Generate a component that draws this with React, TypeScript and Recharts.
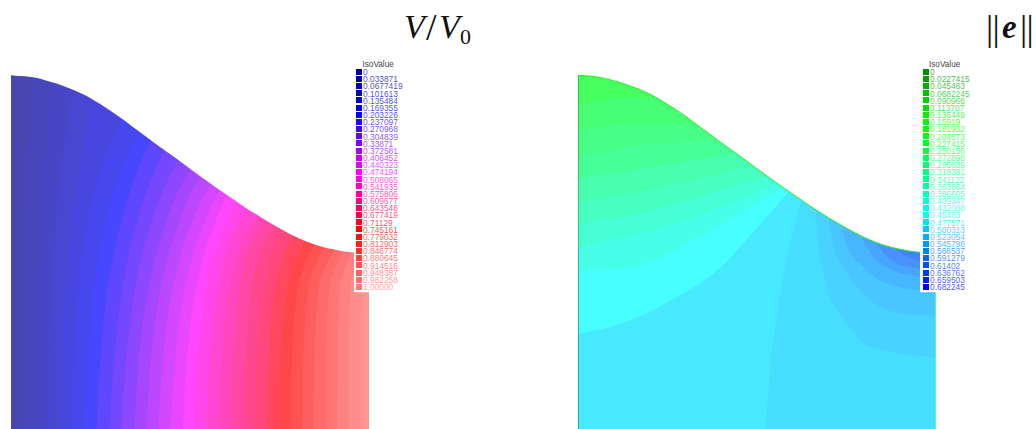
import React from "react";
import { ComposedChart, ScatterChart, Scatter, Area, Line, XAxis, YAxis, ReferenceArea, ReferenceLine } from "recharts";

// Domain coordinates: u runs 0..1 across a panel, v runs 0..0.99 from the cut bottom to the top of the hump.
const TOP = 0.99;

const boundaryU = [0, 0.05, 0.1, 0.15, 0.2, 0.25, 0.3, 0.35, 0.4, 0.45, 0.5, 0.55, 0.6, 0.65, 0.7, 0.75, 0.8, 0.85, 0.9, 0.95, 1];
const boundaryV = [0.989, 0.985, 0.974, 0.958, 0.937, 0.908, 0.875, 0.838, 0.801, 0.765, 0.728, 0.692, 0.657, 0.623, 0.591, 0.562, 0.536, 0.516, 0.503, 0.495, 0.492];

const leftLabels = ["0","0.033871","0.0677419","0.101613","0.135484","0.169355","0.203226","0.237097","0.270968","0.304839","0.33871","0.372581","0.406452","0.440323","0.474194","0.508065","0.541935","0.575806","0.609677","0.643548","0.677419","0.71129","0.745161","0.779032","0.812903","0.846774","0.880645","0.914516","0.948387","0.982258","1.00000"];
const leftColors = ["#000090","#0000a0","#0000b0","#0000c0","#0000d4","#0000e8","#0000ff","#2000ff","#4000ff","#6000ff","#8000ff","#a000ff","#c000ff","#e000ff","#ff00ff","#ff00e0","#ff00c0","#ff00a0","#ff0080","#ff0060","#ff0048","#ff0020","#ff0000","#ff1010","#ff2020","#ff3030","#ff4040","#ff5050","#ff6060","#ff6c6c","#ff7878"];

const rightLabels = ["0","0.0227415","0.045483","0.0682245","0.090966","0.113707","0.136449","0.15919","0.181932","0.204673","0.227415","0.250156","0.272898","0.295639","0.318381","0.341122","0.363864","0.386605","0.409347","0.432088","0.45483","0.477571","0.500313","0.523054","0.545796","0.568537","0.591279","0.61402","0.636762","0.659503","0.682245"];
const rightColors = ["#009000","#00a000","#00b000","#00c000","#00d000","#00e000","#00f000","#00f800","#00ff00","#00ff10","#00ff20","#00ff40","#00ff58","#00ff70","#00ff80","#00ff90","#00ffa0","#00ffb8","#00ffd0","#00ffe8","#00ffff","#00e0ff","#00c8ff","#00b0ff","#0098ff","#0080ff","#0068ff","#0050ff","#0038ff","#0020ff","#0000ff"];

// Left panel: iso-lines of V/V0, one row per contour, one column per v station.
const leftStations = [0, 0.2, 0.4, 0.55, 0.7, 0.85, TOP];
const leftContours = [
  [0.034, 0.035, 0.037, 0.04, 0.044, 0.05, 0.056],
  [0.069, 0.071, 0.075, 0.081, 0.09, 0.102, 0.115],
  [0.104, 0.107, 0.113, 0.123, 0.137, 0.156, 0.176],
  [0.137, 0.142, 0.151, 0.165, 0.186, 0.213, 0.24],
  [0.17, 0.177, 0.189, 0.208, 0.243, 0.3, 0.37],
  [0.206, 0.216, 0.233, 0.258, 0.3, 0.365, 0.45],
  [0.239, 0.25, 0.271, 0.3, 0.345, 0.415, 0.52],
  [0.276, 0.288, 0.312, 0.344, 0.393, 0.47, 0.6],
  [0.309, 0.322, 0.348, 0.384, 0.44, 0.535, 0.68],
  [0.345, 0.358, 0.385, 0.424, 0.485, 0.6, 0.75],
  [0.378, 0.391, 0.419, 0.46, 0.525, 0.67, 0.85],
  [0.412, 0.425, 0.453, 0.495, 0.57, 0.75, 0.95],
  [0.446, 0.459, 0.486, 0.53, 0.61, 0.8, 1],
  [0.48, 0.492, 0.518, 0.56, 0.64, 0.85, 1],
  [0.51, 0.522, 0.547, 0.59, 0.68, 0.9, 1],
  [0.546, 0.557, 0.581, 0.625, 0.73, 0.95, 1],
  [0.58, 0.59, 0.612, 0.66, 0.8, 1, 1],
  [0.613, 0.622, 0.641, 0.69, 0.85, 1, 1],
  [0.648, 0.656, 0.675, 0.725, 0.9, 1, 1],
  [0.68, 0.687, 0.707, 0.76, 0.95, 1, 1],
  [0.715, 0.721, 0.74, 0.8, 1, 1, 1],
  [0.749, 0.754, 0.775, 0.84, 1, 1, 1],
  [0.781, 0.785, 0.802, 0.87, 1, 1, 1],
  [0.814, 0.817, 0.832, 0.9, 1, 1, 1],
  [0.846, 0.848, 0.86, 0.93, 1, 1, 1],
  [0.879, 0.88, 0.889, 0.955, 1, 1, 1],
  [0.911, 0.912, 0.919, 0.975, 1, 1, 1],
  [0.944, 0.944, 0.949, 0.99, 1, 1, 1],
  [0.979, 0.979, 0.982, 1, 1, 1, 1],
];

// Right panel: iso-lines of |e|, each a list of [u, v].
type Iso = { color: string; pts: number[][]; below?: boolean };
const isoTop: Iso[] = [
  { color: "#00ffff", pts: [[0, 0.267], [0.119, 0.295], [0.259, 0.36], [0.399, 0.453], [0.501, 0.565], [0.589, 0.663]] },
  { color: "#00ffe0", pts: [[0, 0.444], [0.166, 0.458], [0.371, 0.556], [0.575, 0.677]] },
  { color: "#00ffc8", pts: [[0, 0.509], [0.212, 0.556], [0.399, 0.621], [0.566, 0.691]] },
  { color: "#00ffa8", pts: [[0, 0.574], [0.212, 0.612], [0.399, 0.668], [0.538, 0.709]] },
  { color: "#00ff90", pts: [[0, 0.635], [0.212, 0.672], [0.399, 0.714], [0.501, 0.742]] },
  { color: "#00ff70", pts: [[0, 0.7], [0.212, 0.733], [0.454, 0.775]] },
  { color: "#00ff58", pts: [[0, 0.761], [0.212, 0.798], [0.399, 0.807]] },
  { color: "#00ff40", pts: [[0, 0.835], [0.166, 0.855], [0.352, 0.85]] },
  { color: "#00ff20", pts: [[0, 0.91], [0.166, 0.928], [0.25, 0.914]] },
];
const fanIso: Iso = { color: "#00d0ff", below: true, pts: [[0.524, 0], [0.538, 0.193], [0.557, 0.332], [0.585, 0.491], [0.622, 0.635], [0.623, TOP], [1, TOP]] };
const isoRight: Iso[] = [
  { color: "#00c0ff", pts: [[0.664, 0.612], [0.669, 0.547], [0.696, 0.398], [0.752, 0.295], [0.818, 0.23], [1, 0.202]] },
  { color: "#00b0ff", pts: [[0.701, 0.584], [0.715, 0.509], [0.752, 0.435], [0.818, 0.36], [0.911, 0.323], [1, 0.318]] },
  { color: "#0098ff", pts: [[0.738, 0.556], [0.752, 0.509], [0.799, 0.453], [0.864, 0.407], [1, 0.384]] },
  { color: "#0080ff", pts: [[0.794, 0.533], [0.818, 0.491], [0.864, 0.453], [0.957, 0.426], [1, 0.421]] },
  { color: "#0068ff", pts: [[0.836, 0.519], [0.864, 0.481], [0.929, 0.453], [1, 0.444]] },
  { color: "#0050ff", pts: [[0.887, 0.505], [0.911, 0.486], [1, 0.463]] },
];
const baseRightColor = "#00e0ff";

const light = (hex: string, a = 0.72) => {
  const n = parseInt(hex.slice(1), 16);
  const c = [(n >> 16) & 255, (n >> 8) & 255, n & 255].map((x) => Math.round(x * a + 255 * (1 - a)));
  return `rgb(${c[0]},${c[1]},${c[2]})`;
};

const PANEL_W = 358;
const PANEL_H = 0.99 * 358;
const PANEL_TOP = 429 - PANEL_H;

function LeftPanel() {
  const bands = [leftStations.map(() => 0), ...leftContours];
  const mask = [{ v: TOP, r: [0, 1] }, ...boundaryU.map((u, i) => ({ v: boundaryV[i], r: [u, 1] }))].sort((a, b) => a.v - b.v);
  return (
    <div style={{ position: "absolute", left: 11, top: PANEL_TOP }}>
      <ComposedChart layout="vertical" width={PANEL_W} height={PANEL_H} margin={{ top: 0, right: 0, bottom: 0, left: 0 }}>
        <XAxis hide type="number" domain={[0, 1]} />
        <YAxis hide reversed type="number" dataKey="v" domain={[0, TOP]} />
        {bands.map((row, k) => (
          <Area
            key={k}
            type="monotone"
            data={leftStations.map((v, i) => ({ v, r: [row[i], 1] }))}
            dataKey="r"
            fill={light(leftColors[k])}
            fillOpacity={1}
            stroke="none"
            dot={false}
            activeDot={false}
            isAnimationActive={false}
          />
        ))}
        <Area type="monotone" data={mask} dataKey="r" fill="#fff" fillOpacity={1} stroke="none" dot={false} activeDot={false} isAnimationActive={false} />
      </ComposedChart>
    </div>
  );
}

function isoArea(iso: Iso, key: string, fill: string) {
  const data = iso.pts.map(([u, v]) => ({ u, r: iso.below ? [0, v] : [v, TOP] }));
  return (
    <Area key={key} type={iso.below ? "linear" : "monotone"} data={data} dataKey="r" fill={fill} fillOpacity={1} stroke="none" dot={false} activeDot={false} isAnimationActive={false} />
  );
}

function RightPanel() {
  const mask = boundaryU.map((u, i) => ({ u, r: [boundaryV[i], TOP] }));
  const line = boundaryU.map((u, i) => ({ u, b: boundaryV[i] }));
  return (
    <div style={{ position: "absolute", left: 577.5, top: PANEL_TOP }}>
      <ComposedChart width={PANEL_W} height={PANEL_H} margin={{ top: 0, right: 0, bottom: 0, left: 0 }} style={{ overflow: "visible" }}>
        <XAxis hide type="number" dataKey="u" domain={[0, 1]} />
        <YAxis hide type="number" domain={[0, TOP]} />
        {isoArea({ color: baseRightColor, pts: [[0, 0], [1, 0]] }, "base", light(baseRightColor))}
        {isoTop.map((iso, i) => isoArea(iso, `t${i}`, light(iso.color)))}
        {isoArea(fanIso, "fan", light(fanIso.color))}
        {isoRight.map((iso, i) => isoArea(iso, `r${i}`, light(iso.color)))}
        <Area type="monotone" data={mask} dataKey="r" fill="#fff" fillOpacity={1} stroke="none" dot={false} activeDot={false} isAnimationActive={false} />
        <Line type="monotone" data={line} dataKey="b" stroke="#22ee22" strokeWidth={1} dot={false} activeDot={false} isAnimationActive={false} />
        <ReferenceLine segment={[{ x: 0, y: 0 }, { x: 0, y: 0.5 }]} stroke="#0c8f6a" strokeWidth={1.2} />
        <ReferenceLine segment={[{ x: 0, y: 0.5 }, { x: 0, y: 0.989 }]} stroke="#14b020" strokeWidth={1.2} />
        <ReferenceLine segment={[{ x: 1, y: 0 }, { x: 1, y: 0.492 }]} stroke="#66ffc4" strokeWidth={1.2} />
      </ComposedChart>
    </div>
  );
}

const LEG_ROW = 7.17;
const LEG_TOP = 71.7 - 1.5 * LEG_ROW;
const LEG_H = 33 * LEG_ROW;

function LegendSwatch(props: any) {
  const { cy, cx, payload } = props;
  const y = Math.round(cy - 3);
  return (
    <g>
      <rect x={cx - 3} y={y} width={6} height={6} fill={payload.color} />
      <text x={cx + 4} y={cy + 0.3} fontSize={8.4} fontFamily="Liberation Sans" dominantBaseline="central" fill={payload.color} fillOpacity={0.72}>
        {payload.label}
      </text>
    </g>
  );
}

function IsoLegend({ left, labels, colors, whiteWidth, swatchX }: { left: number; labels: string[]; colors: string[]; whiteWidth: number; swatchX: number }) {
  const rows = labels.map((label, i) => ({ x: swatchX, row: i, label, color: colors[i] }));
  return (
    <div style={{ position: "absolute", left, top: LEG_TOP }}>
      <ScatterChart width={64} height={LEG_H} margin={{ top: 0, right: 0, bottom: 0, left: 0 }}>
        <XAxis hide type="number" dataKey="x" domain={[0, 64]} />
        <YAxis hide type="number" dataKey="row" reversed domain={[-1.5, 31.5]} />
        <ReferenceArea x1={0} x2={whiteWidth} y1={-0.6} y2={30.75} fill="#fff" fillOpacity={1} stroke="none" />
        <Scatter data={rows} shape={LegendSwatch} isAnimationActive={false} />
      </ScatterChart>
    </div>
  );
}

function Titles() {
  const serif = "Liberation Serif";
  return (
    <svg width={1036} height={429} style={{ position: "absolute", left: 0, top: 0, pointerEvents: "none" }}>
      <text x={404} y={38} fontFamily={serif} fontStyle="italic" fontSize={34} fill="#111">V</text>
      <text x={426} y={40} fontFamily={serif} fontSize={38} fill="#111">/</text>
      <text x={439} y={38} fontFamily={serif} fontStyle="italic" fontSize={34} fill="#111">V</text>
      <text x={460} y={44} fontFamily={serif} fontSize={22} fill="#111">0</text>
      <text x={986} y={40} fontFamily={serif} fontSize={36} fill="#111">|</text>
      <text x={992.5} y={40} fontFamily={serif} fontSize={36} fill="#111">|</text>
      <text x={1002} y={38} fontFamily={serif} fontStyle="italic" fontWeight="bold" fontSize={33} fill="#111">e</text>
      <text x={1020} y={40} fontFamily={serif} fontSize={36} fill="#111">|</text>
      <text x={1026.5} y={40} fontFamily={serif} fontSize={36} fill="#111">|</text>
      <text x={362.5} y={66.5} fontFamily="Liberation Sans" fontSize={8.2} fill="#444">IsoValue</text>
      <text x={929} y={66.5} fontFamily="Liberation Sans" fontSize={8.2} fill="#444">IsoValue</text>
    </svg>
  );
}

export default function App() {
  return (
    <div style={{ position: "absolute", left: 0, top: 0, width: 1036, height: 429, overflow: "hidden", background: "#fff" }}>
      <LeftPanel />
      <RightPanel />
      <IsoLegend left={354} labels={leftLabels} colors={leftColors} whiteWidth={15} swatchX={5} />
      <IsoLegend left={920} labels={rightLabels} colors={rightColors} whiteWidth={16} swatchX={6} />
      <Titles />
    </div>
  );
}
